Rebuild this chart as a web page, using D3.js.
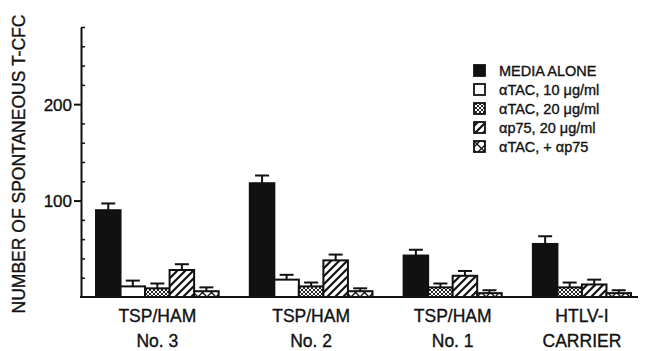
<!DOCTYPE html>
<html><head><meta charset="utf-8">
<script src="https://cdn.jsdelivr.net/npm/d3@7"></script>
<style>body{margin:0;background:#fff}svg{display:block}text{font-family:"Liberation Sans",Arial,sans-serif;fill:#111;stroke:#111;stroke-width:0.35px}</style>
</head><body><svg id="c" width="645" height="351"></svg>
<script>
const categories = [["TSP/HAM","No. 3"],["TSP/HAM","No. 2"],["TSP/HAM","No. 1"],["HTLV-I","CARRIER"]];
const seriesNames = ["MEDIA ALONE","\u03B1TAC, 10 \u03BCg/ml","\u03B1TAC, 20 \u03BCg/ml","\u03B1p75, 20 \u03BCg/ml","\u03B1TAC, + \u03B1p75"];
const mediaAlone = [90, 118, 43, 55];
const mediaAloneErr = [7, 8, 6, 8];
const aTAC10 = [11, 18, null, null];
const aTAC10Err = [6, 5, null, null];
const aTAC20 = [9, 11, 10, 10];
const aTAC20Err = [5, 4, 4, 5];
const ap75 = [28, 38, 22, 13];
const ap75Err = [6, 6, 5, 5];
const combo = [6, 6, 4, 4];
const comboErr = [4, 3, 3, 3];
const majorTicks = [100, 200];
const minorTicks = [20,40,60,80,120,140,160,180,220,240,260,280];

const values = [mediaAlone, aTAC10, aTAC20, ap75, combo];
const errs = [mediaAloneErr, aTAC10Err, aTAC20Err, ap75Err, comboErr];

const svg = d3.select("#c");
const defs = svg.append("defs");
const pDot = defs.append("pattern").attr("id","pDot").attr("patternUnits","userSpaceOnUse").attr("width",4).attr("height",4);
pDot.append("rect").attr("width",4).attr("height",4).attr("fill","#fff");
pDot.append("path").attr("d","M0,0L4,4M4,0L0,4").attr("stroke","#222").attr("stroke-width",1);
const pHatch = defs.append("pattern").attr("id","pHatch").attr("patternUnits","userSpaceOnUse").attr("width",8).attr("height",8);
pHatch.append("rect").attr("width",8).attr("height",8).attr("fill","#fff");
pHatch.append("path").attr("d","M-2,2L2,-2M0,8L8,0M6,10L10,6").attr("stroke","#111").attr("stroke-width",2.2);
const pCross = defs.append("pattern").attr("id","pCross").attr("patternUnits","userSpaceOnUse").attr("width",9).attr("height",9);
pCross.append("rect").attr("width",9).attr("height",9).attr("fill","#fff");
pCross.append("path").attr("d","M0,0L9,9M9,0L0,9").attr("stroke","#111").attr("stroke-width",1.3);
const fills = ["#111","#fff","url(#pDot)","url(#pHatch)","url(#pCross)"];

const y = d3.scaleLinear().domain([0, 280]).range([297, 27]);
const gapUnits = 1.27;
const slots = [];
let u = 0;
const groupCenters = [];
categories.forEach((c, gi) => {
  const start = u;
  values.forEach((s, si) => {
    if (s[gi] != null) { slots.push({gi, si, u, v: s[gi], e: errs[si][gi]}); u += 1; }
  });
  groupCenters.push((start + u) / 2);
  u += gapUnits;
});
const totalUnits = u - gapUnits;
const x = d3.scaleLinear().domain([0, totalUnits]).range([96, 631]);
const bw = x(1) - x(0);

svg.append("g").selectAll("rect").data(slots).join("rect")
  .attr("x", d => x(d.u)).attr("y", d => y(d.v))
  .attr("width", bw).attr("height", d => y(0) - y(d.v))
  .attr("fill", d => fills[d.si]).attr("stroke", "#111").attr("stroke-width", 2);
const eb = svg.append("g").attr("stroke","#111").attr("stroke-width",2);
eb.selectAll("line.v").data(slots).join("line").attr("class","v")
  .attr("x1", d => x(d.u + 0.5)).attr("x2", d => x(d.u + 0.5))
  .attr("y1", d => y(d.v)).attr("y2", d => y(d.v + d.e));
eb.selectAll("line.h").data(slots).join("line").attr("class","h")
  .attr("x1", d => x(d.u + 0.5) - 7).attr("x2", d => x(d.u + 0.5) + 7)
  .attr("y1", d => y(d.v + d.e)).attr("y2", d => y(d.v + d.e));

const ax = svg.append("g").attr("transform","translate(81,0)");
ax.call(d3.axisLeft(y).tickValues(majorTicks).tickSize(7).tickSizeOuter(0).tickPadding(2));
ax.selectAll("text").style("font-size","17px").attr("font-family","Liberation Sans, Arial, sans-serif").attr("fill","#111").attr("dy","0.35em");
ax.select(".domain").attr("stroke","#111").attr("stroke-width",2);
ax.selectAll(".tick line").attr("stroke","#111").attr("stroke-width",2);
const axm = svg.append("g").attr("transform","translate(81,0)");
axm.call(d3.axisLeft(y).tickValues(minorTicks).tickSize(-4).tickSizeOuter(0).tickFormat(""));
axm.select(".domain").remove();
axm.selectAll(".tick line").attr("stroke","#111").attr("stroke-width",1.5);
svg.append("line").attr("x1",80).attr("x2",638).attr("y1",y(0)).attr("y2",y(0)).attr("stroke","#111").attr("stroke-width",2);

const cl = svg.append("g");
categories.forEach((c, gi) => {
  const t = cl.append("text").attr("x", x(groupCenters[gi])).attr("text-anchor","middle").style("font-size","17.5px");
  t.append("tspan").attr("x", x(groupCenters[gi])).attr("y", 322).text(c[0]);
  t.append("tspan").attr("x", x(groupCenters[gi])).attr("y", 347).text(c[1]);
});

svg.append("text").attr("transform","translate(25,164) rotate(-90)").attr("text-anchor","middle")
  .style("font-size","17.5px").text("NUMBER OF SPONTANEOUS T-CFC");

const lg = svg.append("g");
seriesNames.forEach((n, i) => {
  const cy = 71 + i * 19;
  lg.append("rect").attr("x",474).attr("y",cy-6).attr("width",11).attr("height",11)
    .attr("fill",fills[i]).attr("stroke","#111").attr("stroke-width",1.8);
  lg.append("text").attr("x",499).attr("y",cy+5).style("font-size","14.5px").text(n);
});
</script></body></html>
